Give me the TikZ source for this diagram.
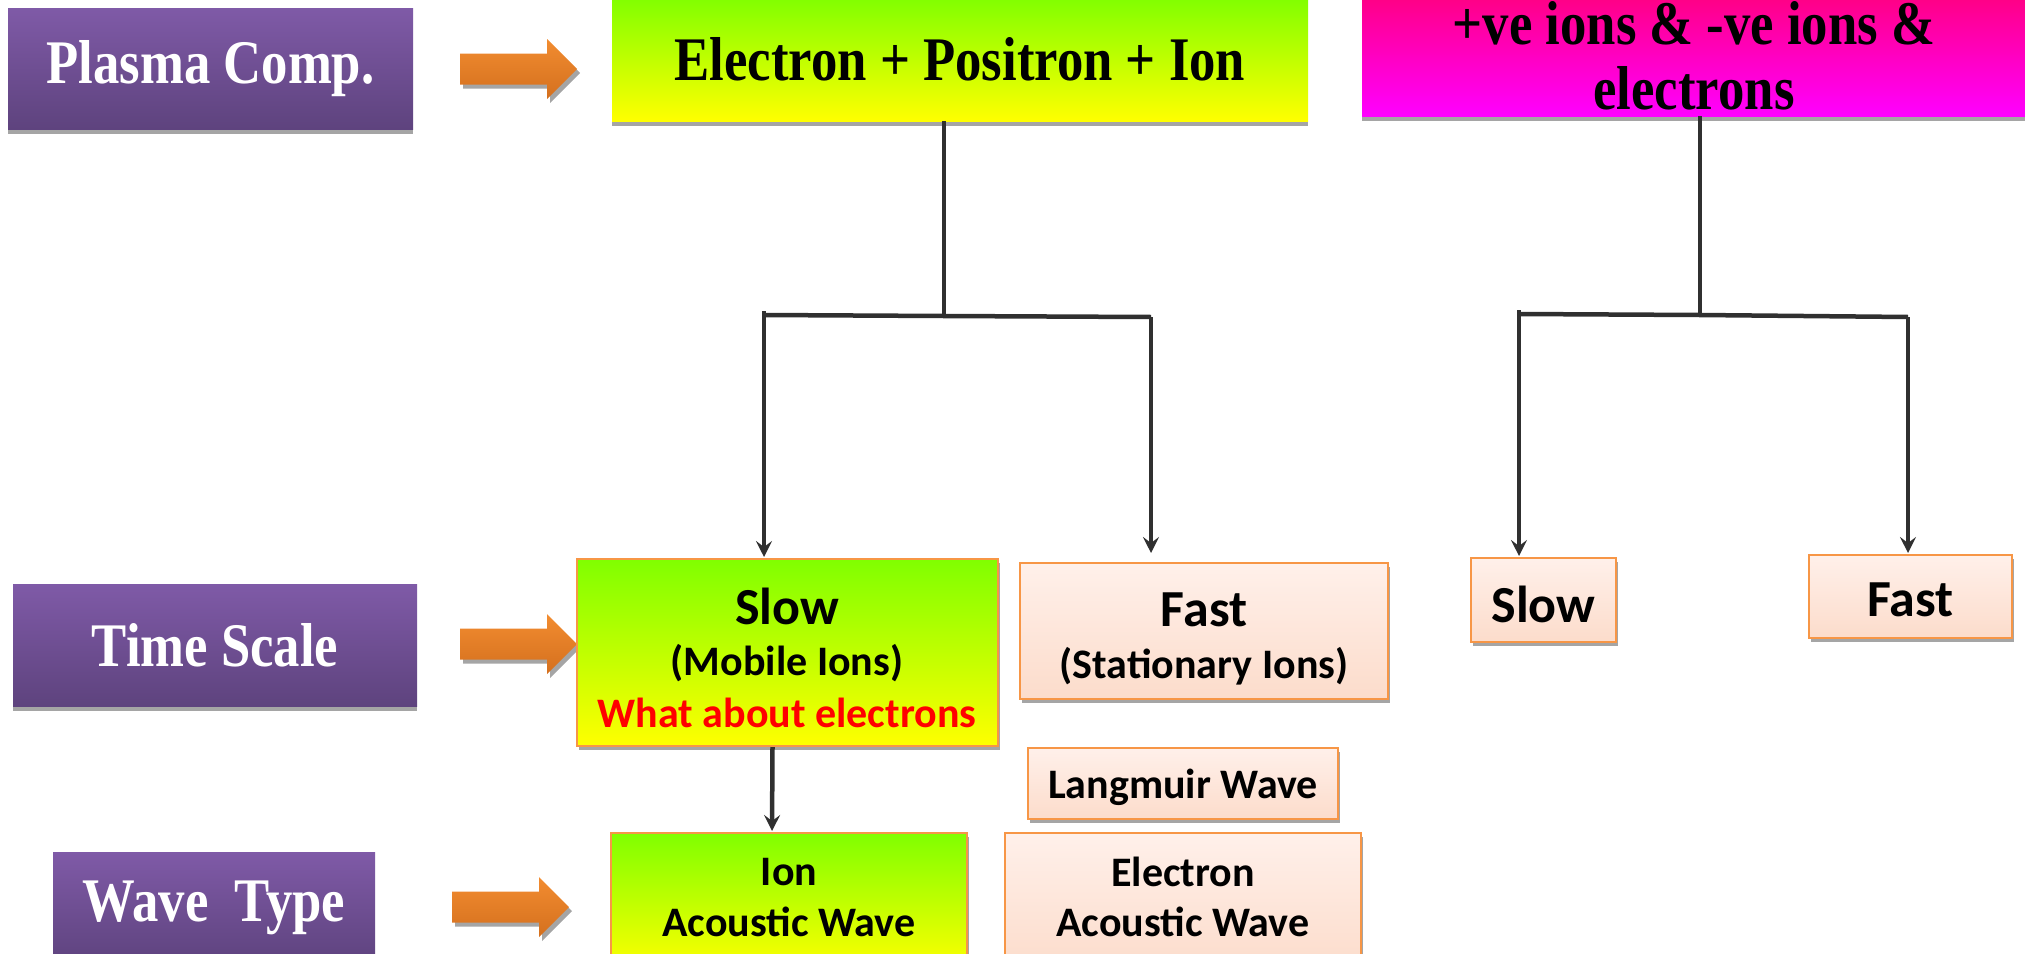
\documentclass[tikz,border=0pt]{standalone}
\usepackage{fontspec}
\usetikzlibrary{arrows.meta,calc}
\newfontfamily\titlefont[FakeStretch=0.85]{Liberation Serif Bold}
\newfontfamily\boxfont{Carlito}
\definecolor{purpT}{HTML}{7F5AA7}
\definecolor{purpB}{HTML}{5E437E}
\definecolor{shgray}{HTML}{A5A5A5}
\definecolor{greenT}{HTML}{80FF00}
\definecolor{yelB}{HTML}{FFFF00}
\definecolor{magT}{HTML}{FF0080}
\definecolor{magB}{HTML}{FF00FF}
\definecolor{peachT}{HTML}{FFF0EA}
\definecolor{peachB}{HTML}{FCDCCB}
\definecolor{peachD}{HTML}{F79646}
\definecolor{oraT}{HTML}{F28C30}
\definecolor{oraB}{HTML}{D4701E}
\definecolor{linec}{HTML}{303030}
\tikzset{
  shadowed/.style={preaction={fill=shgray, draw=none, transform canvas={yshift=-5pt}}},
  shadowedsm/.style={preaction={fill=shgray, draw=none, transform canvas={xshift=2pt,yshift=-4pt}}},
  purplebox/.style={rectangle, inner sep=0pt, top color=purpT, bottom color=purpB, draw=none,
    text=white, font=\titlefont\fontsize{62}{64}\selectfont, shadowed},
  topbox/.style={rectangle, inner sep=0pt, draw=none, text=black, align=center,
    font=\titlefont\fontsize{62}{65}\selectfont, shadowed},
  titletxt/.style={inner sep=0pt, text=black, align=center, font=\titlefont\fontsize{62}{65}\selectfont},
  gybox/.style={rectangle, inner sep=0pt, top color=greenT, bottom color=yelB, draw=peachD, line width=2pt, shadowedsm},
  peachbox/.style={rectangle, inner sep=0pt, top color=peachT, bottom color=peachB, draw=peachD, line width=2pt, shadowedsm,
    font=\boxfont\bfseries\fontsize{42}{50}\selectfont},
  txt/.style={inner sep=0pt, font=\boxfont\bfseries\fontsize{42}{50}\selectfont},
  bigtxt/.style={inner sep=0pt, font=\boxfont\bfseries\fontsize{52}{60}\selectfont},
  conn/.style={draw=linec, line width=4.5pt},
  arr/.style={draw=linec, line width=4.5pt, -{Stealth[length=16pt,width=16pt,inset=6pt]}, shorten >=1pt},
  barrow/.pic={
    \fill[shgray] (3,-11.5) -- (90,-11.5) -- (90,-26) -- (120,4) -- (90,34) -- (90,19.5) -- (3,19.5) -- cycle;
    \shade[top color=oraT, bottom color=oraB] (0,-15.5) -- (87,-15.5) -- (87,-30) -- (117,0) -- (87,30) -- (87,15.5) -- (0,15.5) -- cycle;
  }
}
\begin{document}
\begin{tikzpicture}[x=1pt,y=-1pt]
\useasboundingbox (0,0) rectangle (2025,953);
\clip (0,0) rectangle (2025,953);

% left labels
\node[purplebox, minimum width=405pt, minimum height=121pt] (pc) at (210.5,68.5) {Plasma Comp.};
\node[purplebox, minimum width=404pt, minimum height=122pt] (ts) at (215,645) {Time Scale};
\node[purplebox, minimum width=322pt, minimum height=112pt] (wt) at (214,908) {Wave\ \ Type};

% block arrows
\pic at (460,69) {barrow};
\pic at (460,644) {barrow};
\pic at (452,907) {barrow};

% top boxes
\node[topbox, top color=greenT, bottom color=yelB, minimum width=696pt, minimum height=124pt] (epi) at (960,59) {Electron + Positron + Ion};
\node[topbox, top color=magT, bottom color=magB, minimum width=664pt, minimum height=124pt] (mag) at (1694,54) {};
\node[titletxt] (magt) at (1694,56) {+ve ions \& -ve ions \&\\electrons};

% time scale boxes
\node[gybox, minimum width=421pt, minimum height=187pt] (slow) at (787.5,652.5) {};
\node[bigtxt] (slowa) at (787,606) {Slow};
\node[txt] (slowb) at (787,663) {(Mobile Ions)};
\node[txt, text=red] (slowc) at (787,713) {What about electrons};

\node[peachbox, minimum width=368pt, minimum height=136pt] (fast) at (1204,631) {};
\node[bigtxt] (fasta) at (1204,610) {Fast};
\node[txt] (fastb) at (1204,666) {(Stationary Ions)};

\node[peachbox, minimum width=145pt, minimum height=84pt] (slow2) at (1543.5,600) {};
\node[bigtxt] (slow2t) at (1543.5,604) {Slow};
\node[peachbox, minimum width=203pt, minimum height=83pt] (fast2) at (1910.5,596.5) {};
\node[bigtxt] (fast2t) at (1910.5,600) {Fast};

% wave boxes
\node[peachbox, minimum width=310pt, minimum height=71pt] (lang) at (1183,783.5) {};
\node[txt] (langt) at (1183,787) {Langmuir Wave};
\node[gybox, minimum width=356pt, minimum height=137pt] (ion) at (789,901.5) {};
\node[txt] (iona) at (789,872) {Ion};
\node[txt] (ionb) at (789,922) {Acoustic Wave};
\node[peachbox, minimum width=356pt, minimum height=137pt] (ele) at (1183,901.5) {};
\node[txt] (elea) at (1183,872) {Electron};
\node[txt] (eleb) at (1183,922) {Acoustic Wave};

% tree 1
\coordinate (j1) at (944,316);
\coordinate (l1) at (764,315);
\coordinate (r1) at (1151,317);
\draw[conn] (epi.south -| j1) -- (j1);
\draw[conn] (l1) -- (j1) -- (r1);
\draw[arr] ([yshift=4pt]l1) -- (l1 |- slow.north);
\draw[arr, shorten >=9pt] (r1) -- (r1 |- fast.north);

% tree 2
\coordinate (j2) at (1700,315);
\coordinate (l2) at (1519,314);
\coordinate (r2) at (1908,317);
\draw[conn] (mag.south -| j2) -- (j2);
\draw[conn] (l2) -- (j2) -- (r2);
\draw[arr] ([yshift=4pt]l2) -- (l2 |- slow2.north);
\draw[arr] (r2) -- (r2 |- fast2.north);

% slow -> ion
\draw[arr] ([xshift=-15pt]slow.south) -- ([xshift=-17pt]ion.north);
\end{tikzpicture}
\end{document}
